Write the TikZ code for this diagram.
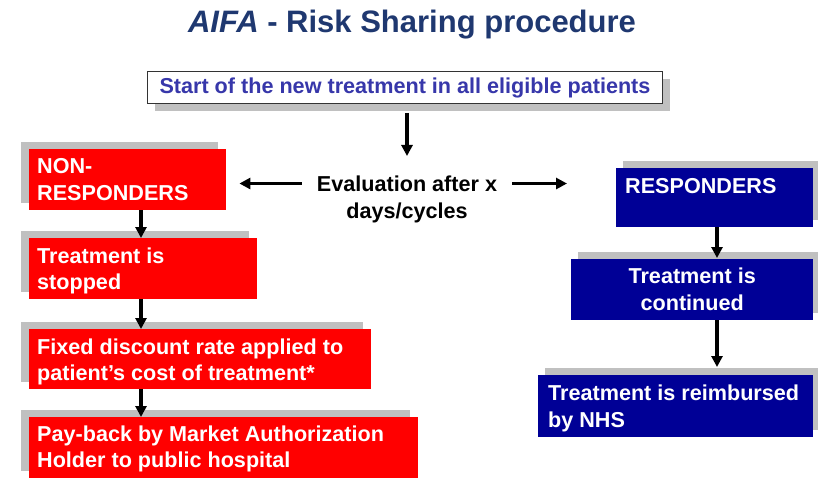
\documentclass[tikz,border=0pt]{standalone}
\usepackage{fontspec}
\setmainfont{Liberation Sans}
\usetikzlibrary{shadows,arrows.meta}
\definecolor{ttl}{RGB}{31,56,112}
\definecolor{stxt}{RGB}{55,55,170}
\definecolor{rbox}{RGB}{255,0,0}
\definecolor{bbox}{RGB}{0,0,150}
\definecolor{shd}{RGB}{192,192,192}
\tikzset{
  bodyfont/.style={font=\bfseries\fontsize{21.6pt}{26.5pt}\selectfont},
  redbox/.style={fill=rbox, draw=none, inner sep=0pt, anchor=north west,
    general shadow={fill=shd, shadow xshift=-8pt, shadow yshift=7pt}},
  bluebox/.style={fill=bbox, draw=none, inner sep=0pt, anchor=north west,
    general shadow={fill=shd, shadow xshift=7pt, shadow yshift=7pt}},
  startbox/.style={fill=white, draw=black!80, line width=1pt, inner sep=0pt, anchor=north west,
    bodyfont, text=stxt,
    general shadow={fill=shd, shadow xshift=7pt, shadow yshift=-8pt}},
  wtxt/.style={bodyfont, text=white, inner sep=0pt, align=left, anchor=north west},
  arr/.style={-{Triangle[length=11pt,width=11pt]}, line width=3.2pt, black},
}
\begin{document}
\begin{tikzpicture}[x=1pt,y=-1pt]
\useasboundingbox[fill=white] (0,0) rectangle (818,478);

% title
\node[anchor=base, text=ttl, font=\bfseries\fontsize{31pt}{36pt}\selectfont, inner sep=0pt]
  (title) at (412,33) {{\itshape AIFA} - Risk Sharing procedure};

% start box
\node[startbox, minimum width=515pt, minimum height=32pt] (start) at (147,71)
  {Start of the new treatment in all eligible patients};

% evaluation
\node[bodyfont, align=center, anchor=north, inner xsep=15pt, inner ysep=0pt] (eval) at (407,176)
  {Evaluation after x\\days/cycles};

% red boxes
\node[redbox, minimum width=197pt, minimum height=61pt] (nonresp) at (29,149) {};
\node[redbox, minimum width=228pt, minimum height=61pt] (stopped) at (29,238) {};
\node[redbox, minimum width=342pt, minimum height=60pt] (fixed) at (29,329) {};
\node[redbox, minimum width=389pt, minimum height=61pt] (payback) at (29,417) {};

\node[wtxt] (nonresp-t) at ([shift={(8pt,-9.5pt)}]nonresp.north west) {NON-\\RESPONDERS};
\node[wtxt] (stopped-t) at ([shift={(8pt,-9.5pt)}]stopped.north west) {Treatment is\\stopped};
\node[wtxt] (fixed-t) at ([shift={(8pt,-9.5pt)}]fixed.north west) {Fixed discount rate applied to\\patient’s cost of treatment*};
\node[wtxt] (payback-t) at ([shift={(8pt,-8.5pt)}]payback.north west) {Pay-back by Market Authorization\\Holder to public hospital};

% blue boxes
\node[bluebox, minimum width=197pt, minimum height=59pt] (resp) at (616,168) {};
\node[bluebox, minimum width=242pt, minimum height=61pt] (cont) at (571,259) {};
\node[bluebox, minimum width=275pt, minimum height=62pt] (reimb) at (538,375) {};

\node[wtxt] (resp-t) at ([shift={(9pt,-10pt)}]resp.north west) {RESPONDERS};
\node[wtxt, align=center, anchor=north] (cont-t) at ([yshift=-9pt]cont.north) {Treatment is\\continued};
\node[wtxt] (reimb-t) at ([shift={(10pt,-10pt)}]reimb.north west) {Treatment is reimbursed\\by NHS};

% arrows
\coordinate (sTop) at (start.south -| eval.north);
\draw[arr] ([yshift=-9pt]sTop) -- ([yshift=20pt]eval.north);
\coordinate (eL) at ([yshift=16pt]eval.west);
\coordinate (eR) at ([yshift=16pt]eval.east);
\draw[arr, shorten >=13pt] (eL) -- (eL -| nonresp.east);
\draw[arr, shorten >=49pt] (eR) -- (eR -| resp.west);

\draw[arr] ([xshift=112pt]nonresp.south west) -- ([xshift=112pt]stopped.north west);
\draw[arr] ([xshift=112pt]stopped.south west) -- ([xshift=112pt]fixed.north west);
\draw[arr] ([xshift=112pt]fixed.south west) -- ([xshift=112pt]payback.north west);

\coordinate (bx) at ([xshift=101pt]resp.south west);
\draw[arr, shorten >=1pt] (bx) -- (bx |- cont.north);
\draw[arr, shorten >=8pt] (bx |- cont.south) -- (bx |- reimb.north);
\end{tikzpicture}
\end{document}
